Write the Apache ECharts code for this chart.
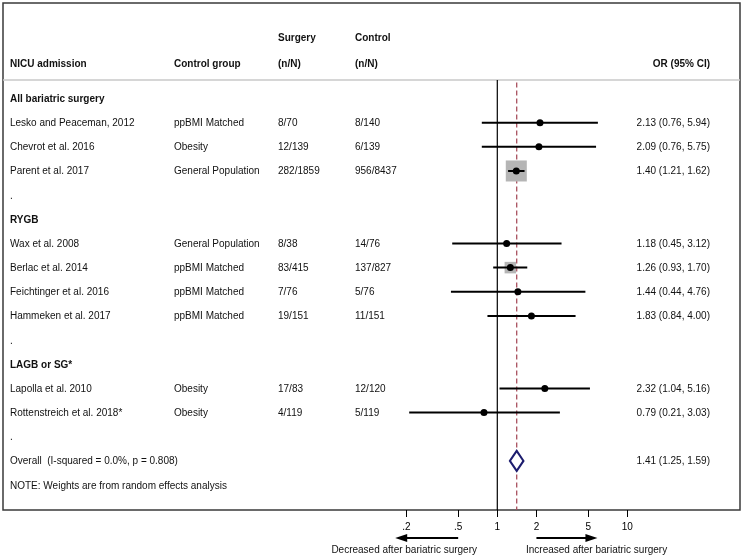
<!DOCTYPE html>
<html><head><meta charset="utf-8">
<script src="https://cdn.jsdelivr.net/npm/echarts@6/dist/echarts.min.js"></script>
<style>html,body{margin:0;padding:0;background:#fff}#c{width:744px;height:559px}</style>
</head><body><div id="c"></div>
<script>
// ---------- data ----------
const rowLabels = ["All bariatric surgery","Lesko and Peaceman, 2012","Chevrot et al. 2016","Parent et al. 2017",".","RYGB","Wax et al. 2008","Berlac et al. 2014","Feichtinger et al. 2016","Hammeken et al. 2017",".","LAGB or SG*","Lapolla et al. 2010","Rottenstreich et al. 2018*",".","Overall  (I-squared = 0.0%, p = 0.808)","NOTE: Weights are from random effects analysis"];
const headingRows = [0, 5, 11];
const studyRows = [1, 2, 3, 6, 7, 8, 9, 12, 13];
const controlGroups = ["ppBMI Matched","Obesity","General Population","General Population","ppBMI Matched","ppBMI Matched","ppBMI Matched","Obesity","Obesity"];
const surgeryCounts = ["8/70","12/139","282/1859","8/38","83/415","7/76","19/151","17/83","4/119"];
const controlCounts = ["8/140","6/139","956/8437","14/76","137/827","5/76","11/151","12/120","5/119"];
const oddsRatio = [2.13, 2.09, 1.40, 1.18, 1.26, 1.44, 1.83, 2.32, 0.79];
const ciLow = [0.76, 0.76, 1.21, 0.45, 0.93, 0.44, 0.84, 1.04, 0.21];
const ciHigh = [5.94, 5.75, 1.62, 3.12, 1.70, 4.76, 4.00, 5.16, 3.03];
const weightPct = [1.5, 1.5, 68.0, 1.6, 20.4, 1.1, 2.5, 2.4, 0.9];
const overallRow = 15;
const overallEstimate = [1.41, 1.25, 1.59]; // OR, low, high
const nullValue = 1;
const axisTicks = [0.2, 0.5, 1, 2, 5, 10];
const tickLabels = [".2", ".5", "1", "2", "5", "10"];
const headerLine1 = ["Surgery", "Control"];
const headerLine2 = ["NICU admission", "Control group", "(n/N)", "(n/N)", "OR (95% CI)"];
const arrowTexts = ["Decreased after bariatric surgery", "Increased after bariatric surgery"];

// ---------- layout ----------
const FONT = '"Liberation Sans", Arial, Helvetica, sans-serif';
const GRID_L = 3, GRID_R = 740, GRID_T = 3, GRID_B = 510;
const ONE_PX = 497.3, DECADE_PX = 130;
const ROW0 = 98.5, STEP = 24.16;
const xMinLog = -(ONE_PX - GRID_L) / DECADE_PX;
const xMaxLog = (GRID_R - ONE_PX) / DECADE_PX;
const yMin = (GRID_T - ROW0) / STEP;
const yMax = (GRID_B - ROW0) / STEP;
const headerK = (80 - ROW0) / STEP;
const COLS = [10, 174, 278, 355, 710];
const TXT = '#111';

function fmt(v){ return v.toFixed(2); }

// rows for text table
const tableData = rowLabels.map((lab, k) => {
  const si = studyRows.indexOf(k);
  let cg = '', sc = '', cc = '', ort = '';
  if (si >= 0) {
    cg = controlGroups[si]; sc = surgeryCounts[si]; cc = controlCounts[si];
    ort = fmt(oddsRatio[si]) + ' (' + fmt(ciLow[si]) + ', ' + fmt(ciHigh[si]) + ')';
  } else if (k === overallRow) {
    ort = fmt(overallEstimate[0]) + ' (' + fmt(overallEstimate[1]) + ', ' + fmt(overallEstimate[2]) + ')';
  }
  return { value: [nullValue, k], cells: [lab, cg, sc, cc, ort], bold: headingRows.indexOf(k) >= 0 };
});

const chart = echarts.init(document.getElementById('c'), null, { renderer: 'canvas' });

const option = {
  animation: false,
  backgroundColor: '#fff',
  grid: { left: GRID_L, top: GRID_T, width: GRID_R - GRID_L, height: GRID_B - GRID_T,
          show: true, borderColor: '#3a3a3a', borderWidth: 1.5, backgroundColor: 'transparent' },
  xAxis: {
    type: 'log', logBase: 10, position: 'bottom',
    min: Math.pow(10, xMinLog), max: Math.pow(10, xMaxLog),
    axisLine: { show: false, onZero: false },
    splitLine: { show: false },
    axisTick: { show: true, customValues: axisTicks, length: 7, lineStyle: { color: '#000', width: 1 } },
    axisLabel: { show: true, customValues: axisTicks, margin: 12, color: '#000', fontSize: 10, fontFamily: FONT,
      formatter: v => { const i = axisTicks.findIndex(t => Math.abs(t - v) < 1e-9); return i >= 0 ? tickLabels[i] : ''; } }
  },
  yAxis: { type: 'value', inverse: true, min: yMin, max: yMax, show: false, axisLine: { onZero: false } },
  series: [
    { // null line
      type: 'line', data: [[nullValue, headerK], [nullValue, yMax]], symbol: 'none',
      lineStyle: { color: '#000', width: 1.2 }, z: 2, silent: true
    },
    { // overall effect dashed line
      type: 'line', data: [[overallEstimate[0], headerK + 0.1], [overallEstimate[0], yMax]], symbol: 'none',
      lineStyle: { color: '#a8505e', width: 1.3, type: [5, 3] }, z: 2, silent: true
    },
    { // weight boxes
      type: 'scatter', symbol: 'rect',
      data: studyRows.map((k, i) => [oddsRatio[i], k, weightPct[i]]),
      symbolSize: v => 2.55 * Math.sqrt(v[2]),
      itemStyle: { color: '#b5b5b5', opacity: 1 }, z: 3, silent: true
    },
    { // confidence intervals
      type: 'custom', z: 4, silent: true,
      data: studyRows.map((k, i) => [ciLow[i], k, ciHigh[i]]),
      renderItem: (params, api) => {
        const a = api.coord([api.value(0), api.value(1)]);
        const b = api.coord([api.value(2), api.value(1)]);
        return { type: 'line', shape: { x1: a[0], y1: a[1], x2: b[0], y2: b[1] },
                 style: { stroke: '#000', lineWidth: 2 } };
      }
    },
    { // point estimates
      type: 'scatter', symbol: 'circle', symbolSize: 7,
      data: studyRows.map((k, i) => [oddsRatio[i], k]),
      itemStyle: { color: '#000', opacity: 1 }, z: 5, silent: true
    },
    { // overall diamond
      type: 'custom', z: 5, silent: true,
      data: [[overallEstimate[0], overallRow, overallEstimate[1], overallEstimate[2]]],
      renderItem: (params, api) => {
        const k = api.value(1);
        const c = api.coord([api.value(0), k]);
        const l = api.coord([api.value(2), k]);
        const r = api.coord([api.value(3), k]);
        const h = 10;
        return { type: 'polygon', shape: { points: [[l[0], c[1]], [c[0], c[1] - h], [r[0], c[1]], [c[0], c[1] + h]] },
                 style: { fill: '#fff', stroke: '#1c1c6e', lineWidth: 2 } };
      }
    },
    { // table text
      type: 'custom', z: 6, silent: true,
      data: tableData,
      renderItem: (params, api) => {
        const d = tableData[params.dataIndex];
        const y = api.coord([nullValue, api.value(1)])[1] + 0.7;
        const children = [];
        d.cells.forEach((t, ci) => {
          if (!t) return;
          children.push({ type: 'text', x: COLS[ci], y: y,
            style: { text: t, fill: TXT, font: (d.bold ? 'bold ' : '') + '10px ' + FONT,
                     textAlign: ci === 4 ? 'right' : 'left', textVerticalAlign: 'middle' } });
        });
        return { type: 'group', children };
      }
    }
  ]
};
chart.setOption(option);

const xHalf = chart.convertToPixel({ xAxisIndex: 0 }, axisTicks[1]);
const xTwo = chart.convertToPixel({ xAxisIndex: 0 }, axisTicks[3]);
const arrowY = 538;
function txt(t, x, y, bold, align) {
  return { type: 'text', x, y, style: { text: t, fill: TXT, font: (bold ? 'bold ' : '') + '10px ' + FONT,
           textAlign: align || 'left', textVerticalAlign: 'middle' }, z: 10 };
}
chart.setOption({
  graphic: [
    { type: 'line', shape: { x1: GRID_L, y1: 80, x2: GRID_R, y2: 80 }, style: { stroke: '#c8c8c8', lineWidth: 1.5 }, z: 1 },
    txt(headerLine1[0], COLS[2], 38, true), txt(headerLine1[1], COLS[3], 38, true),
    txt(headerLine2[0], COLS[0], 64, true), txt(headerLine2[1], COLS[1], 64, true),
    txt(headerLine2[2], COLS[2], 64, true), txt(headerLine2[3], COLS[3], 64, true),
    txt(headerLine2[4], COLS[4], 64, true, 'right'),
    { type: 'line', shape: { x1: xHalf, y1: arrowY, x2: xHalf - 52, y2: arrowY }, style: { stroke: '#000', lineWidth: 2 } },
    { type: 'polygon', shape: { points: [[xHalf - 63, arrowY], [xHalf - 51, arrowY - 4], [xHalf - 51, arrowY + 4]] }, style: { fill: '#000' } },
    { type: 'line', shape: { x1: xTwo, y1: arrowY, x2: xTwo + 50, y2: arrowY }, style: { stroke: '#000', lineWidth: 2 } },
    { type: 'polygon', shape: { points: [[xTwo + 61, arrowY], [xTwo + 49, arrowY - 4], [xTwo + 49, arrowY + 4]] }, style: { fill: '#000' } },
    txt(arrowTexts[0], 477, 550, false, 'right'),
    txt(arrowTexts[1], 526, 550, false, 'left')
  ]
});
</script></body></html>
